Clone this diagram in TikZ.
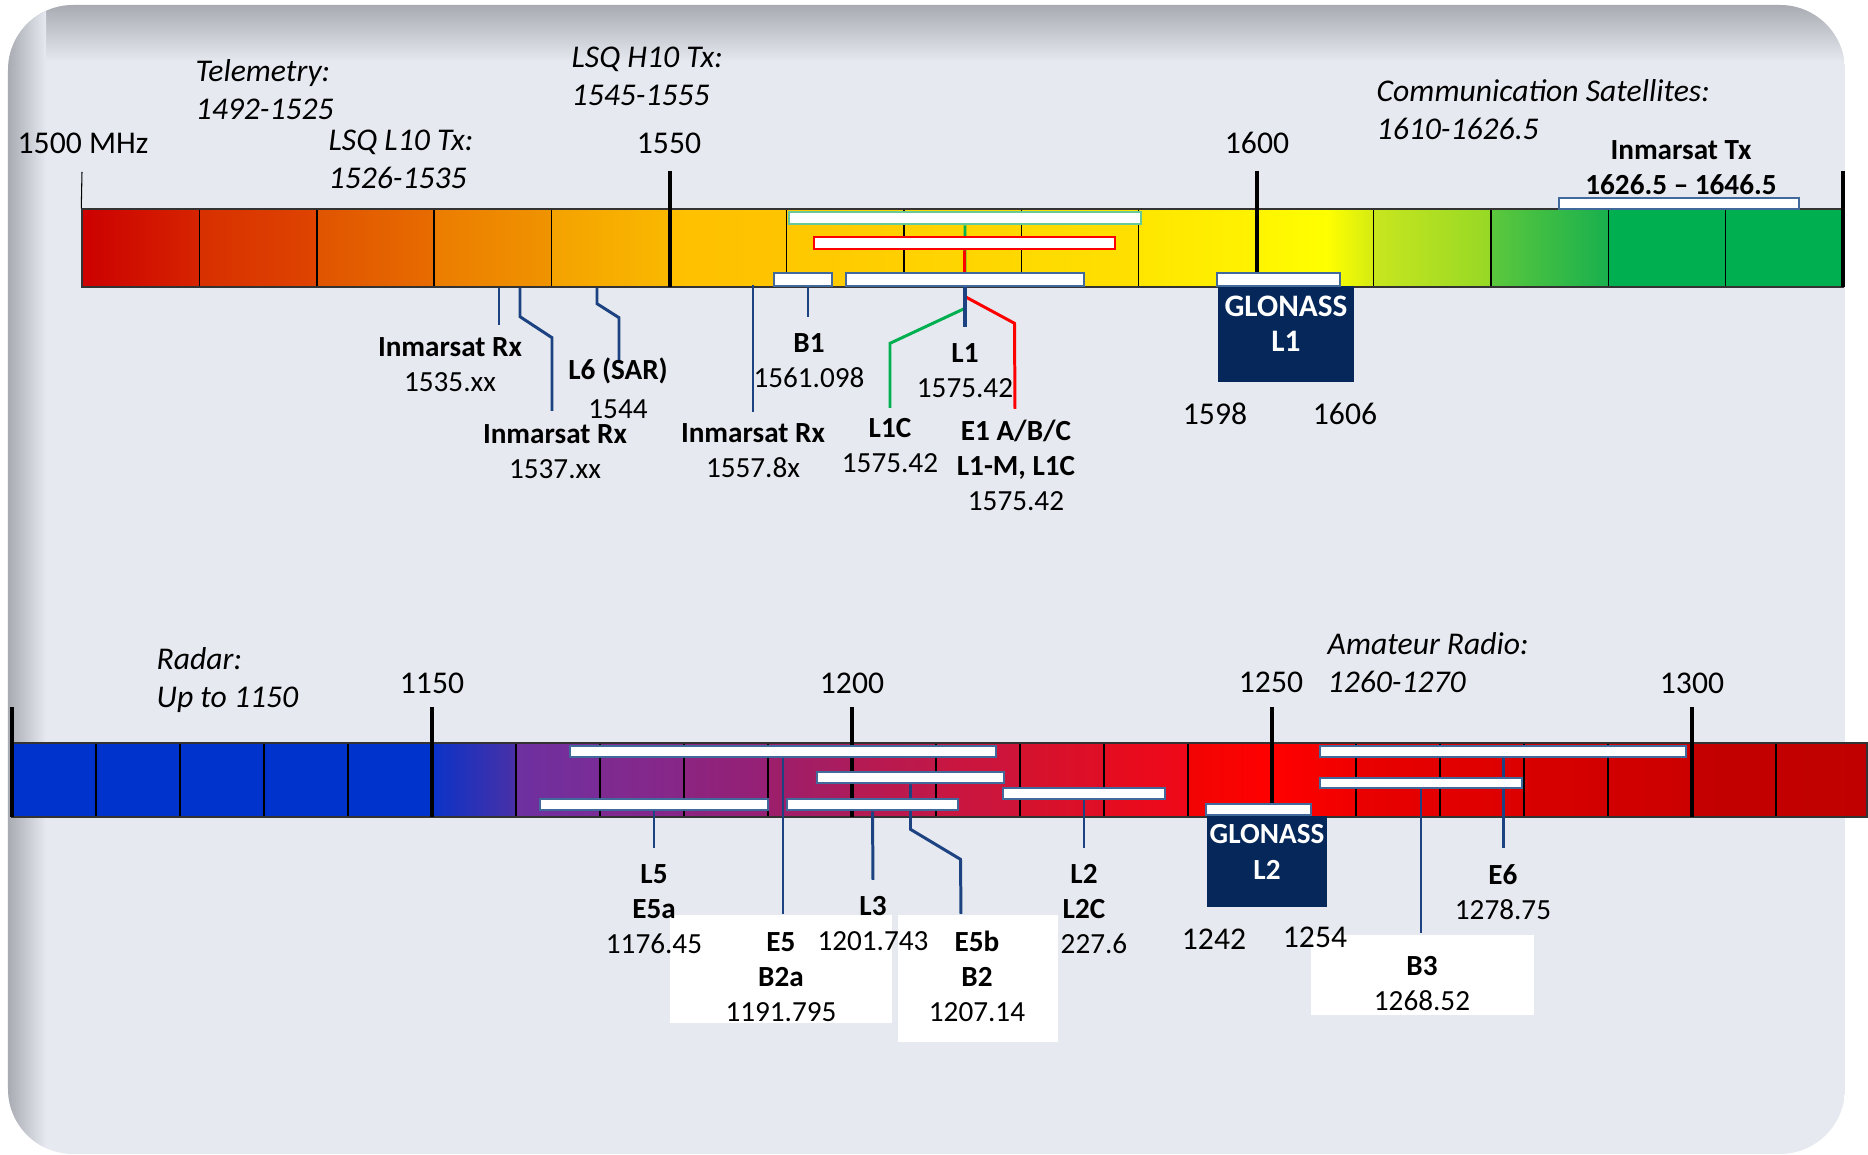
\documentclass[tikz,border=0pt]{standalone}
\usepackage{fontspec}
\setmainfont{Carlito}
\usepackage{tikz}
\usetikzlibrary{fit,positioning,backgrounds}
\pgfdeclarelayer{leads}
\pgfsetlayers{background,leads,main}
\definecolor{cBg}{HTML}{E6EAF0}
\definecolor{cEdge}{HTML}{A8ACB2}
\definecolor{cLead}{HTML}{1C4282}
\definecolor{cBand}{HTML}{41699C}
\definecolor{cGlo}{HTML}{052759}
\definecolor{cGalB}{HTML}{66C997}
\definecolor{cGreen}{HTML}{00B050}
\definecolor{cRed}{HTML}{FF0000}
\tikzset{
  tick-lbl/.style={font=\fontsize{9}{11}\selectfont,anchor=base,inner sep=0},
  % multi-line nodes: anchor=base sits on the last line
  note/.style={font=\fontsize{9}{11}\selectfont\itshape,align=left,anchor=base west,inner sep=0},
  lbl/.style={font=\fontsize{8.3}{10}\selectfont,align=center,anchor=base,inner sep=0},
  band/.style={draw=cBand,line width=0.75pt,fill=white,inner sep=0},
  band-green/.style={band,draw=cGalB},
  band-red/.style={band,draw=cRed},
  glo-box/.style={fill=cGlo,text=white,align=center,inner sep=0},
  white-box/.style={fill=white,inner sep=0},
  lead/.style={draw=cLead,line width=0.85pt},
  lead-green/.style={draw=cGreen,line width=0.85pt},
  lead-red/.style={draw=cRed,line width=0.85pt},
  tick-major/.style={draw=black,line width=1.1pt},
  cell-line/.style={draw=black,line width=0.4pt},
  bar-frame/.style={draw=black!80,line width=0.4pt,inner sep=0},
}
\begin{document}
\begin{tikzpicture}[x=0.01cm,y=-0.01cm]
\useasboundingbox (0,0) rectangle (1868,1155);

\begin{pgfonlayer}{background}
% panel
\begin{scope}
  \clip[rounded corners=0.65cm] (8,5) rectangle (1845,1154);
  \fill[cBg] (8,5) rectangle (1845,1154);
  \shade[top color=cEdge,bottom color=cBg] (8,5) rectangle (1845,62);
  \shade[left color=cEdge,right color=cBg] (8,5) rectangle (46,1154);
\end{scope}

% upper spectrum 1500-1650 MHz
\foreach \fa/\fb/\ca/\cb in {1500/1510/CC0000/D62400, 1510/1520/D83000/DE4400,
    1520/1530/E05400/E86C00, 1530/1540/EC7C00/F09400, 1540/1550/F4A200/FAB800,
    1550/1560/FFC000/FFC400, 1560/1570/FFC800/FFD000, 1570/1580/FFD200/FFD800,
    1580/1590/FFDA00/FFE000, 1590/1600/FFE600/FFF200, 1600/1606/FFF400/FFFF00,
    1606/1610/FFFF00/D4EC12, 1610/1620/C8E61E/96D826, 1620/1630/5CC83C/18B04E,
    1630/1650/00B050/00B050}{
  \definecolor{cL}{HTML}{\ca}\definecolor{cR}{HTML}{\cb}
  \shade[left color=cL,right color=cR] ({82+(\fa-1500)*11.74},209) rectangle ({82.6+(\fb-1500)*11.74},287);
}
\foreach \k in {1,...,14}
  \draw[cell-line] ({82+\k*117.4},209) -- ({82+\k*117.4},287);
\node[bar-frame,fit={(82,209) (1843,287)}] (barTop) {};

\draw[black,line width=0.3pt] (82,172) -- (barTop.north west);
\draw[tick-major] (670,171) -- (670,287);
\draw[tick-major] (1257,171) -- (1257,273);
\draw[tick-major] (1843,171) -- (1843,287);

% lower spectrum 1100-1320 MHz
\foreach \fa/\fb/\ca/\cb in {1100/1150/0033CC/0033CC, 1150/1160/0A33C8/4A30A6,
    1160/1170/6E30A0/7A2C96, 1170/1180/7E2A90/882688, 1180/1190/8C2480/962074,
    1190/1200/9C1E6C/AC1C5C, 1200/1210/B41A54/C01848, 1210/1220/C61642/D01438,
    1220/1230/D4122E/E00E26, 1230/1240/E40C20/F00818, 1240/1250/F20404/FF0000,
    1250/1260/FF0000/F00000, 1260/1280/EA0000/DC0000, 1280/1300/D80000/CC0000,
    1300/1320.9/C40000/C00000}{
  \definecolor{cL}{HTML}{\ca}\definecolor{cR}{HTML}{\cb}
  \shade[left color=cL,right color=cR] ({11.9+(\fa-1100)*8.4},743) rectangle ({12.5+(\fb-1100)*8.4},817);
}
\foreach \k in {1,...,21}
  \draw[cell-line] ({11.9+\k*84},743) -- ({11.9+\k*84},817);
\node[bar-frame,fit={(12,743) (1867,817)}] (barBot) {};

\draw[tick-major] (12,707) -- (12,817);
\draw[tick-major] (432,707) -- (432,817);
\draw[tick-major] (852,707) -- (852,817);
\draw[tick-major] (1272,707) -- (1272,804);
\draw[tick-major] (1692,707) -- (1692,817);
\end{pgfonlayer}

\node[tick-lbl] (tk1500) at (83,154) {1500 MHz};
\node[tick-lbl] (tk1550) at (669,154) {1550};
\node[tick-lbl] (tk1600) at (1257,154) {1600};
\node[tick-lbl] (tk1150) at (432,694) {1150};
\node[tick-lbl] (tk1200) at (852,694) {1200};
\node[tick-lbl] (tk1250) at (1271,693) {1250};
\node[tick-lbl] (tk1300) at (1692,694) {1300};

% GLONASS blocks
\node[glo-box,font=\fontsize{8.9}{10.2}\selectfont\bfseries,fit={(1218,286) (1354,382)}] (gL1) {GLONASS\\L1};
\node[glo-box,font=\fontsize{8.3}{10}\selectfont\bfseries,fit={(1207,816) (1327,907)}] (gL2) {GLONASS\\L2};

% bands
\node[band-green,fit={(789,212) (1141,224)}] (bGalE1) {};
\node[band-red,fit={(814,237) (1115,249)}] (bE1) {};
\node[band,fit={(774,273) (832,286)}] (bB1) {};
\node[band,fit={(846,273) (1084,286)}] (bL1) {};
\node[band,fit={(1217,273) (1340,286)}] (bGloL1) {};
\node[band,fit={(570,746) (996,757)}] (bE5) {};
\node[band,fit={(817,772) (1004,783)}] (bE5b) {};
\node[band,fit={(540,799) (768,810)}] (bL5) {};
\node[band,fit={(787,799) (958,810)}] (bL3) {};
\node[band,fit={(1003,788) (1165,799)}] (bL2) {};
\node[band,fit={(1206,804) (1311,815)}] (bGloL2) {};
\node[band,fit={(1320,746) (1686,757)}] (bE6) {};
\node[band,fit={(1320,778) (1522,788)}] (bB3) {};

% white boxes
\node[white-box,fit={(670,915) (892,1023)}] (wE5) {};
\node[white-box,fit={(898,915) (1058,1042)}] (wE5b) {};
\node[white-box,fit={(1311,935) (1534,1015)}] (wB3) {};

% leader ends
\coordinate (eIRx1) at (499,325);
\coordinate (eIRx2) at (552,411);
\coordinate (eL6) at (619,361);
\coordinate (eIRx3) at (753,412);
\coordinate (eB1) at (808,317);
\coordinate (eL1C) at (890,408);
\coordinate (eE1) at (1015,409);
\coordinate (eL1) at (965,327);
\coordinate (eL5) at (654,848);
\coordinate (eE5) at (783,914);
\coordinate (eL3) at (873,880);
\coordinate (eE5b) at (961,914);
\coordinate (eL2) at (1084,848);
\coordinate (eB3) at (1421,933);
\coordinate (eE6) at (1503,848);

% leaders, under the bands
\begin{pgfonlayer}{leads}
\draw[lead] (barTop.south -| eIRx1) -- (eIRx1);
\draw[lead] (barTop.south -| 520,0) -- ++(0,29) -- ++(32,21) -- (eIRx2);
\draw[lead] (barTop.south -| 597,0) -- ++(0,16) -- ++(22,14) -- (eL6);
\draw[lead] (barTop.south -| eIRx3) ++(0,-3) -- (eIRx3);
\draw[lead] (bB1.south -| eB1) -- (eB1);
\draw[lead-green] (bGalE1.south) -- ++(0,83) -- ++(-75,35) -- (eL1C);
\draw[lead-red] (bE1.south) -- ++(0,46) -- ++(50,27) -- (eE1);
\draw[lead,line width=1.4pt] (bL1.south) -- (eL1);
\draw[lead] (bL5.south) -- (eL5);
\draw[lead] (bE5.south) -- (eE5);
\draw[lead] (bL3.south) -- (eL3);
\draw[lead] (bE5b.south) -- ++(0,45) -- ++(50,30) -- (eE5b);
\draw[lead] (bL2.south) -- (eL2);
\draw[lead] (bB3.south) -- (eB3);
\draw[lead] (bE6.south) -- (eE6);
\end{pgfonlayer}

% notes
\node[note] (nTelem) at (195,120) {Telemetry:\\1492-1525};
\node[note] (nL10) at (328,189) {LSQ L10 Tx:\\1526-1535};
\node[note] (nH10) at (571,106) {LSQ H10 Tx:\\1545-1555};
\node[note] (nComSat) at (1376,140) {Communication Satellites:\\1610-1626.5};
\node[note] (nRadar) at (156,708) {Radar:\\Up to 1150};
\node[note] (nHam) at (1327,693) {Amateur Radio:\\1260-1270};

% upper labels
\node[lbl] (lIRx1) at (450,392) {\textbf{Inmarsat Rx}\\1535.xx};
\node[lbl] (lIRx2) at (555,479) {\textbf{Inmarsat Rx}\\1537.xx};
\node[lbl] (lL6) at (618,419) {\textbf{L6 (SAR)}\\[0.04cm]1544};
\node[lbl] (lIRx3) at (753,478) {\textbf{Inmarsat Rx}\\1557.8x};
\node[lbl] (lB1) at (809,388) {\textbf{B1}\\1561.098};
\node[lbl] (lL1) at (965,398) {\textbf{L1}\\1575.42};
\node[lbl] (lL1C) at (890,473) {\textbf{L1C}\\1575.42};
\node[lbl] (lE1) at (1016,511) {\textbf{E1 A/B/C}\\\textbf{L1-M, L1C}\\1575.42};
\node[lbl] (lInmTx) at (1681,195) {\textbf{Inmarsat Tx}\\\textbf{1626.5 – 1646.5}};
\node[band,fit={(1559,198) (1799,209)}] (bInmTx) {};
\node[tick-lbl] (lG1a) at (1215,425) {1598};
\node[tick-lbl] (lG1b) at (1345,425) {1606};

% lower labels
\node[lbl] (lL5) at (654,954) {\textbf{L5}\\\textbf{E5a}\\1176.45};
\node[lbl] (lE5) at (781,1022) {\textbf{E5}\\\textbf{B2a}\\1191.795};
\node[lbl] (lL3) at (873,951) {\textbf{L3}\\1201.743};
\node[lbl] (lE5b) at (977,1022) {\textbf{E5b}\\\textbf{B2}\\1207.14};
\node[lbl] (lL2) at (1084,919) {\textbf{L2}\\\textbf{L2C}};
\node[lbl,anchor=base west] (lL2f) at (1060,954) {227.6};
\node[tick-lbl] (lG2a) at (1214,950) {1242};
\node[tick-lbl] (lG2b) at (1315,948) {1254};
\node[lbl] (lB3) at (1422,1011) {\textbf{B3}\\1268.52};
\node[lbl] (lE6) at (1503,920) {\textbf{E6}\\1278.75};
\end{tikzpicture}
\end{document}
